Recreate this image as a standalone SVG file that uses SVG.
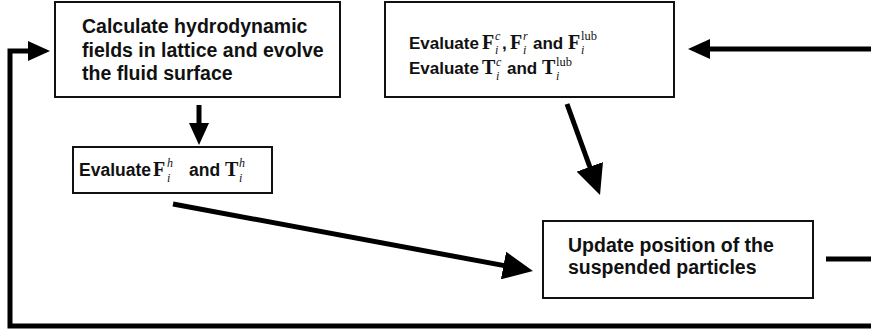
<svg xmlns="http://www.w3.org/2000/svg" width="871" height="334" viewBox="0 0 871 334">
<style>
.box{fill:#fff;stroke:#111;stroke-width:2}
.t{font-family:"Liberation Sans",Arial,sans-serif;font-weight:bold;fill:#111}
.m{font-family:"Liberation Serif","Times New Roman",serif;font-weight:bold;fill:#111}
.s{font-family:"Liberation Serif","Times New Roman",serif;font-style:italic;fill:#111;font-size:12px}
.u{font-family:"Liberation Serif","Times New Roman",serif;fill:#111;font-size:12.5px}
.c{fill:none;stroke:#000;stroke-width:5}
</style>
<defs>
<marker id="big" viewBox="0 0 30 28" refX="5" refY="14" markerWidth="30" markerHeight="28" markerUnits="userSpaceOnUse" orient="auto"><path d="M0,0L30,14L0,28z" fill="#000"/></marker>
<marker id="small" viewBox="0 0 22 20" refX="3" refY="10" markerWidth="22" markerHeight="20" markerUnits="userSpaceOnUse" orient="auto"><path d="M0,0L22,10L0,20z" fill="#000"/></marker>
</defs>
<g id="connectors">
<path class="c" d="M871,326H10V51H31" marker-end="url(#small)"/>
<path class="c" d="M871,49H707" stroke-width="4" marker-end="url(#small)"/>
<line class="c" x1="826" y1="259" x2="871" y2="259" stroke-width="4"/>
<line class="c" x1="199" y1="105" x2="199" y2="126" marker-end="url(#small)"/>
<line class="c" x1="567" y1="104" x2="591.5" y2="171.5" marker-end="url(#big)"/>
<line class="c" x1="173" y1="204" x2="508.4" y2="266.4" marker-end="url(#big)"/>
</g>
<g id="node-hydro">
<rect class="box" x="55" y="2" width="285" height="95"/>
<text class="t" font-size="19.5"><tspan x="82" y="33">Calculate hydrodynamic</tspan><tspan x="82" y="57">fields in lattice and evolve</tspan><tspan x="82" y="80">the fluid surface</tspan></text>
</g>
<g id="node-forces">
<rect class="box" x="385" y="2" width="289" height="95"/>
<text class="t" font-size="17" x="409" y="49">Evaluate</text>
<text class="m" font-size="20" x="482" y="49">F</text>
<text class="s" x="495" y="40">c</text><text class="s" x="495" y="54">i</text>
<text class="t" font-size="17" x="502" y="49">,</text>
<text class="m" font-size="20" x="510" y="49">F</text>
<text class="s" x="523" y="40">r</text><text class="s" x="523" y="54">i</text>
<text class="t" font-size="17" x="533" y="49">and</text>
<text class="m" font-size="20" x="568" y="49">F</text>
<text class="u" x="581" y="40">lub</text><text class="s" x="581" y="54">i</text>
<text class="t" font-size="17" x="409" y="74">Evaluate</text>
<text class="m" font-size="20" x="482" y="74">T</text>
<text class="s" x="496" y="66">c</text><text class="s" x="496" y="80">i</text>
<text class="t" font-size="17" x="507" y="74">and</text>
<text class="m" font-size="20" x="542" y="74">T</text>
<text class="u" x="556" y="66">lub</text><text class="s" x="556" y="80">i</text>
</g>
<g id="node-hydroforces">
<rect class="box" x="73" y="147" width="199" height="46"/>
<text class="t" font-size="17.5" x="79" y="176">Evaluate</text>
<text class="m" font-size="20" x="153" y="176">F</text>
<text class="s" x="167" y="167">h</text><text class="s" x="167" y="182">i</text>
<text class="t" font-size="17.5" x="189" y="176">and</text>
<text class="m" font-size="20" x="225" y="176">T</text>
<text class="s" x="239" y="167">h</text><text class="s" x="239" y="182">i</text>
</g>
<g id="node-update">
<rect class="box" x="543" y="221" width="270" height="77"/>
<text class="t" font-size="19.5"><tspan x="568" y="252">Update position of the</tspan><tspan x="568" y="274">suspended particles</tspan></text>
</g>
</svg>
